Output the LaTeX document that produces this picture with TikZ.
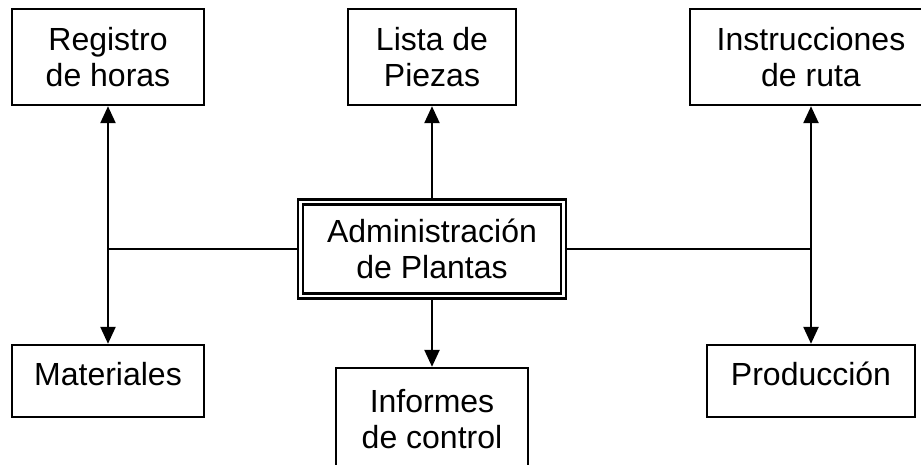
\documentclass[tikz,border=0pt]{standalone}
\usepackage{fontspec}
\setmainfont{Liberation Sans}
\usetikzlibrary{arrows.meta}

\begin{document}
\begin{tikzpicture}[x=1pt,y=-1pt]
		\tikzset{>={Triangle[width=15pt,length=17pt]}}
		\tikzset{caja/.style={draw,line width=2.4pt,align=center,inner sep=0pt,font=\fontsize{32}{36.5}\selectfont},
			cajados/.style={caja,line width=2.6pt,double,double distance=2.6pt}}
		
		\useasboundingbox (0,0) rectangle (921,464);
		
		\node[caja,minimum width=192pt,minimum height=96pt] (registro) at (108,57) {Registro\\de horas};
		\node[caja,minimum width=168pt,minimum height=96pt] (lista) at (432,57) {Lista de\\Piezas};
		\node[caja,minimum width=242pt,minimum height=96pt] (ruta) at (811,57) {Instrucciones\\de ruta};
		
		\node[cajados,minimum width=263pt,minimum height=94pt] (admin) at (432,249) {Administración\\de Plantas};
		
		\node[caja,minimum width=192pt,minimum height=72pt,text height=23pt,text depth=15pt] (materiales) at (108,381) {Materiales};
		\node[caja,minimum width=192pt,minimum height=102pt] (informes) at (432,419) {Informes\\de control};
		\node[caja,minimum width=208pt,minimum height=72pt,text height=23pt,text depth=15pt] (produccion) at (811,381) {Producción};
		
		\coordinate (izq) at (registro |- admin);
		\coordinate (der) at (ruta |- admin);
		
		\draw[line width=2.4pt,<->] (registro) -- (materiales);
		\draw[line width=2.4pt,<->] (ruta) -- (produccion);
		\draw[line width=2.4pt] (admin) -- (izq);
		\draw[line width=2.4pt] (admin) -- (der);
		\draw[line width=2.4pt,->] (admin) -- (lista);
		\draw[line width=2.4pt,->] (admin) -- (informes);
		
	\end{tikzpicture}
\end{document}
